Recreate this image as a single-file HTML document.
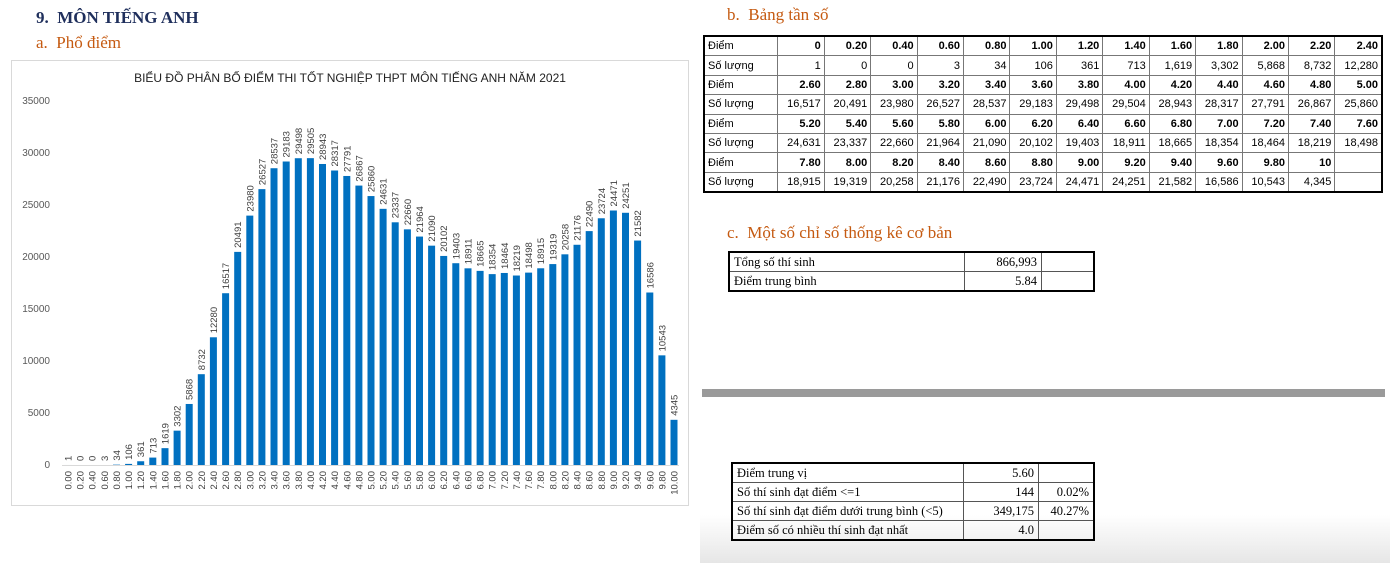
<!DOCTYPE html>
<html><head><meta charset="utf-8">
<style>
body{margin:0;width:1390px;height:563px;background:#fff;position:relative;overflow:hidden;font-family:"Liberation Sans",sans-serif}
.h{position:absolute;font-family:"Liberation Serif",serif;font-size:17px;white-space:nowrap}
.nav{color:#1f2f5c;font-weight:bold}
.or{color:#c55a11}
table{border-collapse:collapse;position:absolute}
#tb{left:703px;top:35px;width:680px;border:2px solid #000;font-size:11px}
#tb td{border:1px solid #777;height:18.4px;padding:0 3px;text-align:right;width:40px}
#tb td:first-child{text-align:left;width:70px}
#tb tr.b td{font-weight:bold}
#tb tr.b td:first-child{font-weight:normal}
.st{font-family:"Liberation Serif",serif;font-size:12.5px;border:2px solid #000}
.st td{border:1px solid #555;height:18px;padding:0 4px;text-align:right}
.st td:first-child{text-align:left}
svg text{font-family:"Liberation Sans",sans-serif}
</style></head><body>
<div class="h nav" style="left:36px;top:8px">9.&nbsp; MÔN TIẾNG ANH</div>
<div class="h or" style="left:36px;top:33px">a.&nbsp; Phổ điểm</div>
<div class="h or" style="left:727px;top:5px">b.&nbsp; Bảng tần số</div>
<div class="h or" style="left:727px;top:223px">c.&nbsp; Một số chỉ số thống kê cơ bản</div>

<svg style="position:absolute;left:0;top:0" width="700" height="563">
<rect x="11.5" y="60.5" width="677" height="445" fill="#fff" stroke="#d9d9d9"/>
<text x="350" y="82" font-size="12" text-anchor="middle" fill="#222">BIỂU ĐỒ PHÂN BỐ ĐIỂM THI TỐT NGHIỆP THPT MÔN TIẾNG ANH NĂM 2021</text>
<g font-size="10" fill="#595959" text-anchor="end">
<text x="50" y="104">35000</text><text x="50" y="156">30000</text><text x="50" y="208">25000</text><text x="50" y="260">20000</text><text x="50" y="312">15000</text><text x="50" y="364">10000</text><text x="50" y="416">5000</text><text x="50" y="468">0</text></g>
<line x1="62" y1="465.5" x2="679" y2="465.5" stroke="#d9d9d9"/>
<g fill="#0070c0" id="bars">
<rect x="64.5" y="464.99" width="7" height="0.01"/>
<rect x="113" y="464.65" width="7" height="0.35"/>
<rect x="125.1" y="463.9" width="7" height="1.1"/>
<rect x="137.2" y="461.25" width="7" height="3.75"/>
<rect x="149.3" y="457.58" width="7" height="7.42"/>
<rect x="161.5" y="448.16" width="7" height="16.84"/>
<rect x="173.6" y="430.66" width="7" height="34.34"/>
<rect x="185.7" y="403.97" width="7" height="61.03"/>
<rect x="197.8" y="374.19" width="7" height="90.81"/>
<rect x="209.9" y="337.29" width="7" height="127.71"/>
<rect x="222.1" y="293.22" width="7" height="171.78"/>
<rect x="234.2" y="251.89" width="7" height="213.11"/>
<rect x="246.3" y="215.61" width="7" height="249.39"/>
<rect x="258.4" y="189.12" width="7" height="275.88"/>
<rect x="270.5" y="168.22" width="7" height="296.78"/>
<rect x="282.7" y="161.5" width="7" height="303.5"/>
<rect x="294.8" y="158.22" width="7" height="306.78"/>
<rect x="306.9" y="158.15" width="7" height="306.85"/>
<rect x="319" y="163.99" width="7" height="301.01"/>
<rect x="331.1" y="170.5" width="7" height="294.5"/>
<rect x="343.3" y="175.97" width="7" height="289.03"/>
<rect x="355.4" y="185.58" width="7" height="279.42"/>
<rect x="367.5" y="196.06" width="7" height="268.94"/>
<rect x="379.6" y="208.84" width="7" height="256.16"/>
<rect x="391.7" y="222.3" width="7" height="242.7"/>
<rect x="403.9" y="229.34" width="7" height="235.66"/>
<rect x="416" y="236.57" width="7" height="228.43"/>
<rect x="428.1" y="245.66" width="7" height="219.34"/>
<rect x="440.2" y="255.94" width="7" height="209.06"/>
<rect x="452.3" y="263.21" width="7" height="201.79"/>
<rect x="464.5" y="268.33" width="7" height="196.67"/>
<rect x="476.6" y="270.88" width="7" height="194.12"/>
<rect x="488.7" y="274.12" width="7" height="190.88"/>
<rect x="500.8" y="272.97" width="7" height="192.03"/>
<rect x="512.9" y="275.52" width="7" height="189.48"/>
<rect x="525.1" y="272.62" width="7" height="192.38"/>
<rect x="537.2" y="268.28" width="7" height="196.72"/>
<rect x="549.3" y="264.08" width="7" height="200.92"/>
<rect x="561.4" y="254.32" width="7" height="210.68"/>
<rect x="573.5" y="244.77" width="7" height="220.23"/>
<rect x="585.7" y="231.1" width="7" height="233.9"/>
<rect x="597.8" y="218.27" width="7" height="246.73"/>
<rect x="609.9" y="210.5" width="7" height="254.5"/>
<rect x="622" y="212.79" width="7" height="252.21"/>
<rect x="634.1" y="240.55" width="7" height="224.45"/>
<rect x="646.3" y="292.51" width="7" height="172.49"/>
<rect x="658.4" y="355.35" width="7" height="109.65"/>
<rect x="670.5" y="419.81" width="7" height="45.19"/>
</g>
<g font-size="9.5" fill="#404040">
<text transform="translate(71.5,461) rotate(-90)">1</text>
<text transform="translate(83.6,461) rotate(-90)">0</text>
<text transform="translate(95.7,461) rotate(-90)">0</text>
<text transform="translate(107.9,461) rotate(-90)">3</text>
<text transform="translate(120,460.6) rotate(-90)">34</text>
<text transform="translate(132.1,459.9) rotate(-90)">106</text>
<text transform="translate(144.2,457.2) rotate(-90)">361</text>
<text transform="translate(156.3,453.6) rotate(-90)">713</text>
<text transform="translate(168.5,444.2) rotate(-90)">1619</text>
<text transform="translate(180.6,426.7) rotate(-90)">3302</text>
<text transform="translate(192.7,400) rotate(-90)">5868</text>
<text transform="translate(204.8,370.2) rotate(-90)">8732</text>
<text transform="translate(216.9,333.3) rotate(-90)">12280</text>
<text transform="translate(229.1,289.2) rotate(-90)">16517</text>
<text transform="translate(241.2,247.9) rotate(-90)">20491</text>
<text transform="translate(253.3,211.6) rotate(-90)">23980</text>
<text transform="translate(265.4,185.1) rotate(-90)">26527</text>
<text transform="translate(277.5,164.2) rotate(-90)">28537</text>
<text transform="translate(289.7,157.5) rotate(-90)">29183</text>
<text transform="translate(301.8,154.2) rotate(-90)">29498</text>
<text transform="translate(313.9,154.1) rotate(-90)">29505</text>
<text transform="translate(326,160) rotate(-90)">28943</text>
<text transform="translate(338.1,166.5) rotate(-90)">28317</text>
<text transform="translate(350.3,172) rotate(-90)">27791</text>
<text transform="translate(362.4,181.6) rotate(-90)">26867</text>
<text transform="translate(374.5,192.1) rotate(-90)">25860</text>
<text transform="translate(386.6,204.8) rotate(-90)">24631</text>
<text transform="translate(398.7,218.3) rotate(-90)">23337</text>
<text transform="translate(410.9,225.3) rotate(-90)">22660</text>
<text transform="translate(423,232.6) rotate(-90)">21964</text>
<text transform="translate(435.1,241.7) rotate(-90)">21090</text>
<text transform="translate(447.2,251.9) rotate(-90)">20102</text>
<text transform="translate(459.3,259.2) rotate(-90)">19403</text>
<text transform="translate(471.5,264.3) rotate(-90)">18911</text>
<text transform="translate(483.6,266.9) rotate(-90)">18665</text>
<text transform="translate(495.7,270.1) rotate(-90)">18354</text>
<text transform="translate(507.8,269) rotate(-90)">18464</text>
<text transform="translate(519.9,271.5) rotate(-90)">18219</text>
<text transform="translate(532.1,268.6) rotate(-90)">18498</text>
<text transform="translate(544.2,264.3) rotate(-90)">18915</text>
<text transform="translate(556.3,260.1) rotate(-90)">19319</text>
<text transform="translate(568.4,250.3) rotate(-90)">20258</text>
<text transform="translate(580.5,240.8) rotate(-90)">21176</text>
<text transform="translate(592.7,227.1) rotate(-90)">22490</text>
<text transform="translate(604.8,214.3) rotate(-90)">23724</text>
<text transform="translate(616.9,206.5) rotate(-90)">24471</text>
<text transform="translate(629,208.8) rotate(-90)">24251</text>
<text transform="translate(641.1,236.6) rotate(-90)">21582</text>
<text transform="translate(653.3,288.5) rotate(-90)">16586</text>
<text transform="translate(665.4,351.4) rotate(-90)">10543</text>
<text transform="translate(677.5,415.8) rotate(-90)">4345</text>
</g>
<g font-size="9.5" fill="#404040" text-anchor="end">
<text transform="translate(71.5,471) rotate(-90)">0.00</text>
<text transform="translate(83.6,471) rotate(-90)">0.20</text>
<text transform="translate(95.7,471) rotate(-90)">0.40</text>
<text transform="translate(107.9,471) rotate(-90)">0.60</text>
<text transform="translate(120,471) rotate(-90)">0.80</text>
<text transform="translate(132.1,471) rotate(-90)">1.00</text>
<text transform="translate(144.2,471) rotate(-90)">1.20</text>
<text transform="translate(156.3,471) rotate(-90)">1.40</text>
<text transform="translate(168.5,471) rotate(-90)">1.60</text>
<text transform="translate(180.6,471) rotate(-90)">1.80</text>
<text transform="translate(192.7,471) rotate(-90)">2.00</text>
<text transform="translate(204.8,471) rotate(-90)">2.20</text>
<text transform="translate(216.9,471) rotate(-90)">2.40</text>
<text transform="translate(229.1,471) rotate(-90)">2.60</text>
<text transform="translate(241.2,471) rotate(-90)">2.80</text>
<text transform="translate(253.3,471) rotate(-90)">3.00</text>
<text transform="translate(265.4,471) rotate(-90)">3.20</text>
<text transform="translate(277.5,471) rotate(-90)">3.40</text>
<text transform="translate(289.7,471) rotate(-90)">3.60</text>
<text transform="translate(301.8,471) rotate(-90)">3.80</text>
<text transform="translate(313.9,471) rotate(-90)">4.00</text>
<text transform="translate(326,471) rotate(-90)">4.20</text>
<text transform="translate(338.1,471) rotate(-90)">4.40</text>
<text transform="translate(350.3,471) rotate(-90)">4.60</text>
<text transform="translate(362.4,471) rotate(-90)">4.80</text>
<text transform="translate(374.5,471) rotate(-90)">5.00</text>
<text transform="translate(386.6,471) rotate(-90)">5.20</text>
<text transform="translate(398.7,471) rotate(-90)">5.40</text>
<text transform="translate(410.9,471) rotate(-90)">5.60</text>
<text transform="translate(423,471) rotate(-90)">5.80</text>
<text transform="translate(435.1,471) rotate(-90)">6.00</text>
<text transform="translate(447.2,471) rotate(-90)">6.20</text>
<text transform="translate(459.3,471) rotate(-90)">6.40</text>
<text transform="translate(471.5,471) rotate(-90)">6.60</text>
<text transform="translate(483.6,471) rotate(-90)">6.80</text>
<text transform="translate(495.7,471) rotate(-90)">7.00</text>
<text transform="translate(507.8,471) rotate(-90)">7.20</text>
<text transform="translate(519.9,471) rotate(-90)">7.40</text>
<text transform="translate(532.1,471) rotate(-90)">7.60</text>
<text transform="translate(544.2,471) rotate(-90)">7.80</text>
<text transform="translate(556.3,471) rotate(-90)">8.00</text>
<text transform="translate(568.4,471) rotate(-90)">8.20</text>
<text transform="translate(580.5,471) rotate(-90)">8.40</text>
<text transform="translate(592.7,471) rotate(-90)">8.60</text>
<text transform="translate(604.8,471) rotate(-90)">8.80</text>
<text transform="translate(616.9,471) rotate(-90)">9.00</text>
<text transform="translate(629,471) rotate(-90)">9.20</text>
<text transform="translate(641.1,471) rotate(-90)">9.40</text>
<text transform="translate(653.3,471) rotate(-90)">9.60</text>
<text transform="translate(665.4,471) rotate(-90)">9.80</text>
<text transform="translate(677.5,471) rotate(-90)">10.00</text>
</g>
</svg>

<table id="tb">
<tr class="b"><td>Điểm</td><td>0</td><td>0.20</td><td>0.40</td><td>0.60</td><td>0.80</td><td>1.00</td><td>1.20</td><td>1.40</td><td>1.60</td><td>1.80</td><td>2.00</td><td>2.20</td><td>2.40</td></tr>
<tr><td>Số lượng</td><td>1</td><td>0</td><td>0</td><td>3</td><td>34</td><td>106</td><td>361</td><td>713</td><td>1,619</td><td>3,302</td><td>5,868</td><td>8,732</td><td>12,280</td></tr>
<tr class="b"><td>Điểm</td><td>2.60</td><td>2.80</td><td>3.00</td><td>3.20</td><td>3.40</td><td>3.60</td><td>3.80</td><td>4.00</td><td>4.20</td><td>4.40</td><td>4.60</td><td>4.80</td><td>5.00</td></tr>
<tr><td>Số lượng</td><td>16,517</td><td>20,491</td><td>23,980</td><td>26,527</td><td>28,537</td><td>29,183</td><td>29,498</td><td>29,504</td><td>28,943</td><td>28,317</td><td>27,791</td><td>26,867</td><td>25,860</td></tr>
<tr class="b"><td>Điểm</td><td>5.20</td><td>5.40</td><td>5.60</td><td>5.80</td><td>6.00</td><td>6.20</td><td>6.40</td><td>6.60</td><td>6.80</td><td>7.00</td><td>7.20</td><td>7.40</td><td>7.60</td></tr>
<tr><td>Số lượng</td><td>24,631</td><td>23,337</td><td>22,660</td><td>21,964</td><td>21,090</td><td>20,102</td><td>19,403</td><td>18,911</td><td>18,665</td><td>18,354</td><td>18,464</td><td>18,219</td><td>18,498</td></tr>
<tr class="b"><td>Điểm</td><td>7.80</td><td>8.00</td><td>8.20</td><td>8.40</td><td>8.60</td><td>8.80</td><td>9.00</td><td>9.20</td><td>9.40</td><td>9.60</td><td>9.80</td><td>10</td><td></td></tr>
<tr><td>Số lượng</td><td>18,915</td><td>19,319</td><td>20,258</td><td>21,176</td><td>22,490</td><td>23,724</td><td>24,471</td><td>24,251</td><td>21,582</td><td>16,586</td><td>10,543</td><td>4,345</td><td></td></tr>
</table>

<table class="st" style="left:728px;top:251px;width:367px">
<tr><td style="width:226px">Tổng số thí sinh</td><td style="width:68px">866,993</td><td></td></tr>
<tr><td>Điểm trung bình</td><td>5.84</td><td></td></tr>
</table>

<div style="position:absolute;left:702px;top:389px;width:683px;height:8px;background:#9a9a9a"></div>
<div style="position:absolute;left:700px;top:515px;width:690px;height:48px;background:linear-gradient(#fff,#e6e6e6)"></div>

<table class="st" style="left:731px;top:462px;width:364px">
<tr><td style="width:222px">Điểm trung vị</td><td style="width:66px">5.60</td><td></td></tr>
<tr><td>Số thí sinh đạt điểm &lt;=1</td><td>144</td><td>0.02%</td></tr>
<tr><td>Số thí sinh đạt điểm dưới trung bình (&lt;5)</td><td>349,175</td><td>40.27%</td></tr>
<tr><td>Điểm số có nhiều thí sinh đạt nhất</td><td>4.0</td><td></td></tr>
</table>
</body></html>
